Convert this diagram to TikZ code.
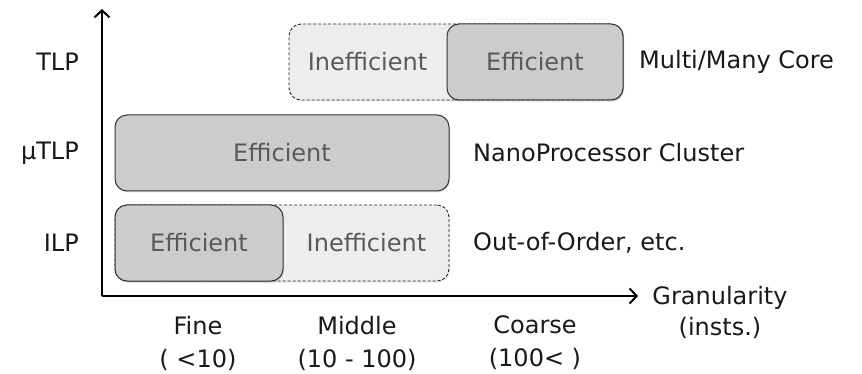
\documentclass[tikz,border=0pt]{standalone}
\usepackage{fontspec}
\setmainfont{DejaVu Sans}
\usepackage{tikz}
\usetikzlibrary{arrows.meta,positioning,calc,shadows}

\tikzset{
  lbl/.style={font=\fontsize{24}{31}\selectfont, text=black!90, inner sep=0pt},
  boxtxt/.style={font=\fontsize{24}{28}\selectfont, text=black!65, inner sep=0pt},
  effbox/.style={boxtxt, draw=black!80, line width=1pt, fill=black!20, rounded corners=12pt,
    minimum height=76pt, drop shadow={shadow xshift=1pt, shadow yshift=-1.5pt, opacity=0.25}},
  inbox/.style={draw=black!85, line width=0.9pt, dash pattern=on 3pt off 2pt, fill=black!7, rounded corners=12pt,
    minimum height=76pt, inner sep=0pt, drop shadow={shadow xshift=1pt, shadow yshift=-1.5pt, opacity=0.2}},
  axis/.style={line width=2pt, -{Straight Barb[length=7pt,width=15pt,line width=2pt]}},
}

\begin{document}
\begin{tikzpicture}[x=1pt,y=-1pt]
\useasboundingbox[fill=white] (0,0) rectangle (862,374);
% Axes
\coordinate (origin) at (102,296);
\coordinate (ytip) at (102,9);
\coordinate (xtip) at (638,296);
\draw[axis] (origin) -- (ytip);
\draw[axis] (origin) -- (xtip);
\node[lbl, align=center] (gran) at (720,312) {Granularity\\(insts.)};
% TLP row
\node[inbox, minimum width=334pt] (tlpIn) at (456,62) {};
\node[effbox, minimum width=176pt] (tlpEff) at (535,62) {Efficient};
\node[boxtxt] (tlpInTxt) at ($(tlpIn.west)!0.5!(tlpEff.west)$) {Inefficient};
% uTLP row
\node[effbox, minimum width=334pt] (utlpEff) at (282,153) {Efficient};
% ILP row
\node[inbox, minimum width=334pt] (ilpIn) at (282,243) {};
\node[effbox, minimum width=168pt] (ilpEff) at (199,243) {Efficient};
\node[boxtxt] (ilpInTxt) at ($(ilpEff.east)!0.5!(ilpIn.east)$) {Inefficient};
% row labels
\foreach \n/\y/\l in {tlp/62/TLP,utlp/153/μTLP,ilp/243/ILP} {
  \node[lbl, anchor=east] (\n Lbl) at (79,\y) {\l};
}
\node[lbl, anchor=west] (tlpRight) at (639,62) {Multi/Many Core};
\node[lbl, anchor=west] (utlpRight) at (473,153) {NanoProcessor Cluster};
\node[lbl, anchor=west] (ilpRight) at (473,243) {Out-of-Order, etc.};
% granularity classes
\foreach \n/\x/\l in {fine/198/{Fine\\( <10)},mid/357/{Middle\\(10 - 100)},coarse/535/{Coarse\\(100< )}} {
  \node[lbl, align=center, font=\fontsize{24}{33}\selectfont] (\n) at (\x,343) {\l};
}
\end{tikzpicture}
\end{document}
